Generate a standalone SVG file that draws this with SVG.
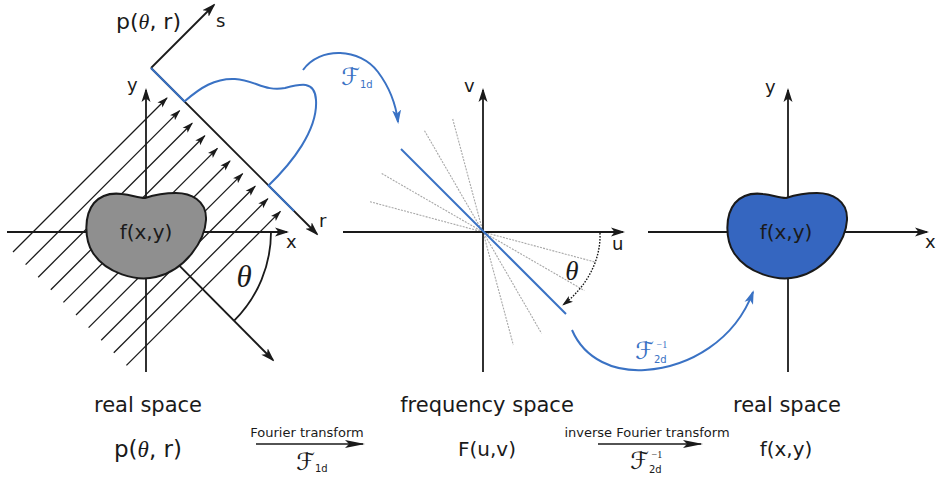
<svg xmlns="http://www.w3.org/2000/svg" width="940" height="479" viewBox="0 0 940 479">
<style>
.ax{stroke:#1a1a1a;stroke-width:1.8;fill:none}
.axa{stroke:#1a1a1a;stroke-width:1.8;fill:none;marker-end:url(#a)}
.ht{stroke:#1a1a1a;stroke-width:1.3;fill:none;marker-end:url(#h)}
.bl{stroke:#3a72c4;stroke-width:2;fill:none}
.bla{stroke:#3a72c4;stroke-width:2;fill:none;marker-end:url(#b)}
.gr{stroke:#a8a8a8;stroke-width:1.1;stroke-dasharray:2 1.2;fill:none}
.dt{stroke:#1a1a1a;stroke-width:1.4;stroke-dasharray:1.6 1.4;fill:none;marker-end:url(#h)}
.tr{stroke:#1a1a1a;stroke-width:1.6;fill:none;marker-end:url(#t)}
.t{font-family:"DejaVu Sans","Liberation Sans",sans-serif;fill:#1a1a1a}
.th{font-family:"Liberation Serif","DejaVu Serif",serif;font-style:italic;fill:#1a1a1a}
.cal{font-family:"DejaVu Serif","DejaVu Sans",serif;font-style:italic}
.sub{font-family:"DejaVu Sans",sans-serif;font-style:normal}
.sup{font-family:"Liberation Serif",serif;font-style:normal}
.blob{stroke:#1a1a1a;stroke-width:2}
</style>
<defs>
<marker id="a" viewBox="0 0 14 10" refX="12" refY="5" markerWidth="14" markerHeight="10" orient="auto" markerUnits="userSpaceOnUse"><path d="M0,0.5 L14,5 L0,9.5 L3.5,5 Z" fill="#1a1a1a"/></marker>
<marker id="h" viewBox="0 0 11 8" refX="10" refY="4" markerWidth="11" markerHeight="8" orient="auto" markerUnits="userSpaceOnUse"><path d="M0,0.5 L11,4 L0,7.5 L2.5,4 Z" fill="#1a1a1a"/></marker>
<marker id="b" viewBox="0 0 14 10" refX="12" refY="5" markerWidth="14" markerHeight="10" orient="auto" markerUnits="userSpaceOnUse"><path d="M0,0.5 L14,5 L0,9.5 L3.5,5 Z" fill="#3a72c4"/></marker>
<marker id="t" viewBox="0 0 20 9" refX="18" refY="4.5" markerWidth="20" markerHeight="9" orient="auto" markerUnits="userSpaceOnUse"><path d="M0,0.5 L20,4.5 L0,8.5 L4,4.5 Z" fill="#1a1a1a"/></marker>
<path id="bean" d="M-1,-37 C8,-40 18,-42 30,-42 C44,-42 61,-35 60,-15 C59,5 40,35 10,42 C-10,47 -40,38 -53,18 C-62,4 -62,-20 -52,-32 C-44,-41 -32,-42 -24,-41 C-14,-40 -8,-37 -1,-37 Z"/>
</defs>

<g id="connectors">
  <line class="ht" x1="13" y1="252" x2="167" y2="98"/>
  <line class="ht" x1="25.6" y1="264.6" x2="179.6" y2="110.6"/>
  <line class="ht" x1="38.2" y1="277.2" x2="192.2" y2="123.2"/>
  <line class="ht" x1="50.8" y1="289.8" x2="204.8" y2="135.8"/>
  <line class="ht" x1="63.4" y1="302.4" x2="217.4" y2="148.4"/>
  <line class="ht" x1="76" y1="315" x2="230" y2="161"/>
  <line class="ht" x1="88.6" y1="327.6" x2="242.6" y2="173.6"/>
  <line class="ht" x1="101.2" y1="340.2" x2="255.2" y2="186.2"/>
  <line class="ht" x1="113.8" y1="352.8" x2="267.8" y2="198.8"/>
  <line class="ht" x1="126.4" y1="365.4" x2="280.4" y2="211.4"/>
  <line class="axa" x1="7" y1="232" x2="287" y2="232"/>
  <line class="axa" x1="146" y1="372" x2="146" y2="90"/>
  <line class="axa" x1="146" y1="232" x2="273" y2="360"/>
  <path class="ax" d="M271,232 A125,125 0 0 1 234.4,320.4"/>
  <line class="axa" x1="151" y1="68" x2="317" y2="234"/>
  <line class="axa" x1="151" y1="68" x2="214" y2="5"/>
  <line class="bl" x1="151" y1="68" x2="185" y2="102"/>
  <line class="bl" x1="268" y1="185" x2="294" y2="211"/>
  <path class="bl" d="M185,101 C200,88 215,78 235,79 C255,80 265,92 285,88 C300,84 315,80 316,100 C318,130 292,163 268,186"/>
  <path class="bla" d="M303,70 C320,46 360,48 378,72 C390,88 396,105 398,122"/>
  <line class="gr" x1="370" y1="201.7" x2="596" y2="262.3"/>
  <line class="gr" x1="381.7" y1="173.5" x2="584.3" y2="290.5"/>
  <line class="gr" x1="424.5" y1="130.7" x2="541.5" y2="333.3"/>
  <line class="gr" x1="452.7" y1="119" x2="513.3" y2="345"/>
  <line class="axa" x1="343" y1="232" x2="623" y2="232"/>
  <line class="axa" x1="483" y1="372" x2="483" y2="90"/>
  <line class="bl" x1="401" y1="149" x2="566" y2="314"/>
  <path class="dt" d="M600,233 C601,262 585,288 563,305"/>
  <path class="bla" d="M572,330 C585,360 615,372 645,370 C690,367 735,340 753,292"/>
  <line class="axa" x1="648" y1="232" x2="927" y2="232"/>
  <line class="axa" x1="788" y1="372" x2="788" y2="90"/>
  <line class="tr" x1="256" y1="444" x2="363" y2="444"/>
  <line class="tr" x1="598" y1="444" x2="701" y2="444"/>
</g>

<g id="object-grey">
  <use href="#bean" transform="translate(146,235)" fill="#8f8f8f" class="blob"/>
  <text class="t" x="146" y="239" font-size="20" text-anchor="middle">f(x,y)</text>
</g>
<g id="object-blue">
  <use href="#bean" transform="translate(787,235)" fill="#3566c0" class="blob"/>
  <text class="t" x="786" y="239" font-size="20" text-anchor="middle">f(x,y)</text>
</g>

<g id="labels-left">
  <text class="t" x="116" y="29" font-size="22">p(<tspan class="th">θ</tspan>, r)</text>
  <text class="t" x="216" y="27" font-size="18">s</text>
  <text class="t" x="127" y="91" font-size="18">y</text>
  <text class="t" x="319" y="227" font-size="18">r</text>
  <text class="t" x="286" y="248" font-size="18">x</text>
  <text class="th" x="244" y="287" font-size="31" text-anchor="middle">θ</text>
</g>
<g id="labels-middle">
  <text class="t" x="464" y="92" font-size="18">v</text>
  <text class="t" x="612" y="250" font-size="18">u</text>
  <text class="th" x="572" y="280" font-size="27" text-anchor="middle">θ</text>
  <text class="cal" x="341" y="85" font-size="24" fill="#3a72c4">ℱ<tspan class="sub" font-size="10" dy="3">1d</tspan></text>
  <text class="cal" x="635" y="359" font-size="24" fill="#3a72c4">ℱ<tspan class="sub" font-size="10" dy="4">2d</tspan><tspan class="sup" font-size="10" dx="-10" dy="-15">−1</tspan></text>
</g>
<g id="labels-right">
  <text class="t" x="765" y="93" font-size="18">y</text>
  <text class="t" x="925" y="248" font-size="18">x</text>
</g>

<g id="bottom">
  <text class="t" x="148" y="412" font-size="21" text-anchor="middle">real space</text>
  <text class="t" x="148" y="457" font-size="23" text-anchor="middle">p(<tspan class="th">θ</tspan>, r)</text>
  <text class="t" x="307" y="437" font-size="13" text-anchor="middle">Fourier transform</text>
  <text class="cal" x="296" y="470" font-size="24" fill="#1a1a1a">ℱ<tspan class="sub" font-size="10" dy="2">1d</tspan></text>
  <text class="t" x="487" y="412" font-size="21" text-anchor="middle">frequency space</text>
  <text class="t" x="487" y="456" font-size="20" text-anchor="middle">F(u,v)</text>
  <text class="t" x="647" y="437" font-size="13" text-anchor="middle">inverse Fourier transform</text>
  <text class="cal" x="630" y="469" font-size="24" fill="#1a1a1a">ℱ<tspan class="sub" font-size="10" dy="4">2d</tspan><tspan class="sup" font-size="10" dx="-10" dy="-15">−1</tspan></text>
  <text class="t" x="787" y="412" font-size="21" text-anchor="middle">real space</text>
  <text class="t" x="786" y="456" font-size="20" text-anchor="middle">f(x,y)</text>
</g>
</svg>
